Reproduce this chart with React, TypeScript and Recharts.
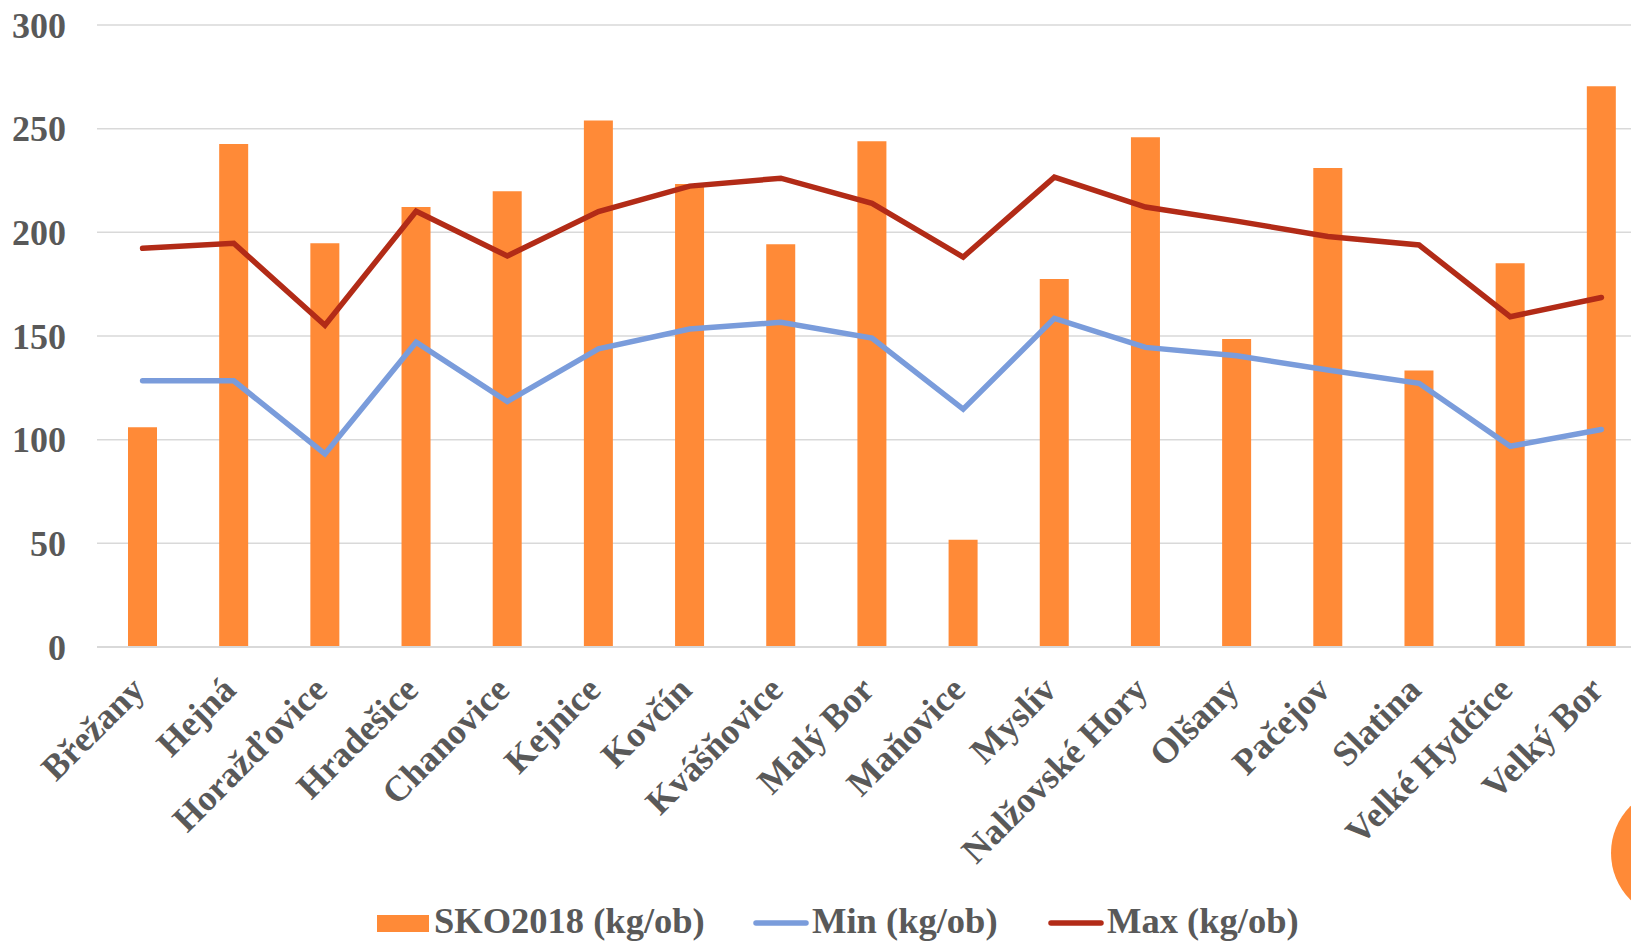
import React from "react";
import { Bar, CartesianGrid, ComposedChart, Legend, Line, XAxis, YAxis } from "recharts";

const obce = [
  "Břežany", "Hejná", "Horažďovice", "Hradešice", "Chanovice", "Kejnice", "Kovčín",
  "Kvášňovice", "Malý Bor", "Maňovice", "Myslív", "Nalžovské Hory", "Olšany",
  "Pačejov", "Slatina", "Velké Hydčice", "Velký Bor",
];
const sko2018 = [106, 242.6, 194.7, 212.2, 219.8, 253.9, 223.3, 194.2, 243.9, 51.7, 177.5, 245.9, 148.6, 231, 133.3, 185.1, 270.4];
const minVals = [128.4, 128.4, 93.1, 147, 118.4, 143.8, 153.4, 156.6, 149, 114.7, 158.5, 144.5, 140.5, 133.6, 127.2, 96.8, 104.9];
const maxVals = [192.3, 194.7, 155.2, 210.2, 188.6, 210, 222.3, 226.1, 214, 188.1, 226.6, 212.2, 205.4, 198, 193.9, 159.3, 168.6];
const yTicks = [0, 50, 100, 150, 200, 250, 300];

const ORANGE = "#FF8A37";
const BLUE = "#7A9CDB";
const RED = "#B22B17";
const TEXT = "#595959";
const FONT = "'Liberation Serif', 'Times New Roman', serif";

const data = obce.map((name, i) => ({
  name,
  sko: sko2018[i],
  min: minVals[i],
  max: maxVals[i],
}));

// popisky osy Y zarovnane doprava
const YTick = (props: any) => {
  const { x, y, payload } = props;
  return (
    <text x={x - 31} y={y} dy="0.35em" textAnchor="end" fill={TEXT}
      fontFamily={FONT} fontWeight="bold" fontSize={36}>
      {payload.value}
    </text>
  );
};

// popisky osy X otocene o -45 stupnu
const XTick = (props: any) => {
  const { x, y, payload } = props;
  const tx = x + 4;
  const ty = y + 45;
  return (
    <text x={tx} y={ty} textAnchor="end" fill={TEXT} fontFamily={FONT}
      fontWeight="bold" fontSize={36} transform={`rotate(-45 ${tx} ${ty})`}>
      {payload.value}
    </text>
  );
};

const legendItems = [
  { label: "SKO2018 (kg/ob)", color: ORANGE, kind: "rect", left: 377 },
  { label: "Min (kg/ob)", color: BLUE, kind: "line", left: 753 },
  { label: "Max (kg/ob)", color: RED, kind: "line", left: 1048 },
];

const LegendContent = () => (
  <div style={{ position: "relative", width: 1631, height: 36 }}>
    {legendItems.map((it) => (
      <div key={it.label} style={{
        position: "absolute", left: it.left, top: 0, height: 36,
        display: "flex", alignItems: "center", whiteSpace: "nowrap",
      }}>
        {it.kind === "rect" ? (
          <span style={{ display: "inline-block", width: 52, height: 17, background: it.color, marginTop: 4 }} />
        ) : (
          <svg width={56} height={10} style={{ marginTop: 4 }}>
            <line x1={3} y1={5} x2={53} y2={5} stroke={it.color} strokeWidth={5.5} strokeLinecap="round" />
          </svg>
        )}
        <span style={{
          marginLeft: it.kind === "rect" ? 5 : 3, fontFamily: FONT, fontWeight: "bold",
          fontSize: 36.5, lineHeight: "36px", color: TEXT,
        }}>
          {it.label}
        </span>
      </div>
    ))}
  </div>
);

export default function App() {
  return (
    <div style={{
      position: "fixed", top: 0, left: 0, width: 1631, height: 941,
      overflow: "hidden", background: "#fff",
    }}>
      <ComposedChart width={1647} height={941} data={data}
        margin={{ top: 25, right: 0, left: 0, bottom: 0 }}>
        <CartesianGrid vertical={false} stroke="#D9D9D9" strokeWidth={1.5} />
        <XAxis dataKey="name" height={294} interval={0} tickLine={false}
          tickSize={0} tickMargin={0} axisLine={{ stroke: "#D9D9D9", strokeWidth: 2 }}
          tick={<XTick />} />
        <YAxis width={97} domain={[0, 300]} ticks={yTicks} axisLine={false}
          tickLine={false} tickSize={0} tickMargin={0} tick={<YTick />} />
        <Legend layout="horizontal" verticalAlign="middle" align="center"
          wrapperStyle={{ top: 903, left: 0, width: 1631, height: 36 }}
          content={() => <LegendContent />} />
        <Bar dataKey="sko" name="SKO2018 (kg/ob)" fill={ORANGE} barSize={29}
          isAnimationActive={false} />
        <Line type="linear" dataKey="min" name="Min (kg/ob)" stroke={BLUE}
          strokeWidth={5.5} strokeLinecap="round" dot={false} activeDot={false}
          isAnimationActive={false} />
        <Line type="linear" dataKey="max" name="Max (kg/ob)" stroke={RED}
          strokeWidth={5.5} strokeLinecap="round" dot={false} activeDot={false}
          isAnimationActive={false} />
      </ComposedChart>
      <div style={{
        position: "absolute", left: 1611, top: 787, width: 132, height: 132,
        borderRadius: "50%", background: ORANGE,
      }} />
    </div>
  );
}
